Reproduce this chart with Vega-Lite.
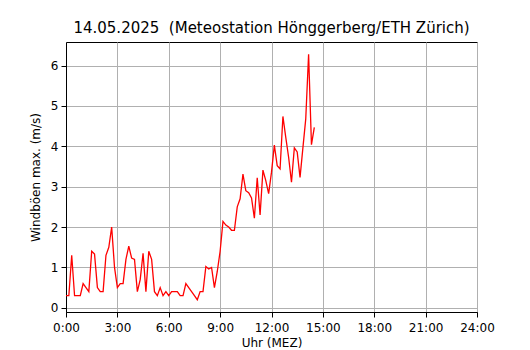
{
  "$schema": "https://vega.github.io/schema/vega-lite/v6.json",
  "autosize": "none",
  "width": 411,
  "height": 270,
  "padding": {"left": 66, "top": 42, "right": 53, "bottom": 38},
  "background": "white",
  "config": {
    "font": "DejaVu Sans",
    "view": {"stroke": "black", "strokeWidth": 1},
    "axis": {
      "gridColor": "#b0b0b0",
      "gridWidth": 1,
      "gridOpacity": 1,
      "domainColor": "black",
      "tickColor": "black",
      "tickSize": 5,
      "labelFont": "DejaVu Sans",
      "labelFontSize": 12,
      "labelColor": "black",
      "titleFont": "DejaVu Sans",
      "titleFontSize": 12,
      "titleFontWeight": "normal",
      "titleColor": "black"
    }
  },
  "title": {
    "text": "14.05.2025\u00a0 (Meteostation Hönggerberg/ETH Zürich)",
    "font": "DejaVu Sans",
    "fontSize": 15,
    "fontWeight": "normal",
    "color": "black",
    "anchor": "middle",
    "offset": 6
  },
  "data": {
    "values": [
      {"m": 0, "v": 0.3}, {"m": 10, "v": 0.3}, {"m": 20, "v": 1.3}, {"m": 30, "v": 0.3},
      {"m": 40, "v": 0.3}, {"m": 50, "v": 0.3}, {"m": 60, "v": 0.6}, {"m": 70, "v": 0.5},
      {"m": 80, "v": 0.4}, {"m": 90, "v": 1.4}, {"m": 100, "v": 1.33}, {"m": 110, "v": 0.5},
      {"m": 120, "v": 0.4}, {"m": 130, "v": 0.4}, {"m": 140, "v": 1.3}, {"m": 150, "v": 1.5},
      {"m": 160, "v": 2.0}, {"m": 170, "v": 1.0}, {"m": 180, "v": 0.5}, {"m": 190, "v": 0.6},
      {"m": 200, "v": 0.6}, {"m": 210, "v": 1.2}, {"m": 220, "v": 1.53}, {"m": 230, "v": 1.23},
      {"m": 240, "v": 1.2}, {"m": 250, "v": 0.4}, {"m": 260, "v": 0.7}, {"m": 270, "v": 1.35},
      {"m": 280, "v": 0.4}, {"m": 290, "v": 1.4}, {"m": 300, "v": 1.2}, {"m": 310, "v": 0.4},
      {"m": 320, "v": 0.3}, {"m": 330, "v": 0.5}, {"m": 340, "v": 0.3}, {"m": 350, "v": 0.4},
      {"m": 360, "v": 0.3}, {"m": 370, "v": 0.4}, {"m": 380, "v": 0.4}, {"m": 390, "v": 0.4},
      {"m": 400, "v": 0.3}, {"m": 410, "v": 0.3}, {"m": 420, "v": 0.6}, {"m": 430, "v": 0.5},
      {"m": 440, "v": 0.4}, {"m": 450, "v": 0.3}, {"m": 460, "v": 0.2}, {"m": 470, "v": 0.4},
      {"m": 480, "v": 0.4}, {"m": 490, "v": 1.02}, {"m": 500, "v": 0.96}, {"m": 510, "v": 1.0},
      {"m": 520, "v": 0.5}, {"m": 530, "v": 0.9}, {"m": 540, "v": 1.4}, {"m": 550, "v": 2.14},
      {"m": 560, "v": 2.05}, {"m": 570, "v": 2.0}, {"m": 580, "v": 1.92}, {"m": 590, "v": 1.92},
      {"m": 600, "v": 2.5}, {"m": 610, "v": 2.7}, {"m": 620, "v": 3.31}, {"m": 630, "v": 2.9},
      {"m": 640, "v": 2.85}, {"m": 650, "v": 2.72}, {"m": 660, "v": 2.22}, {"m": 670, "v": 3.22},
      {"m": 680, "v": 2.3}, {"m": 690, "v": 3.41}, {"m": 700, "v": 3.15}, {"m": 710, "v": 2.83},
      {"m": 720, "v": 3.36}, {"m": 730, "v": 4.03}, {"m": 740, "v": 3.52}, {"m": 750, "v": 3.44},
      {"m": 760, "v": 4.74}, {"m": 770, "v": 4.22}, {"m": 780, "v": 3.73}, {"m": 790, "v": 3.11},
      {"m": 800, "v": 3.96}, {"m": 810, "v": 3.86}, {"m": 820, "v": 3.23}, {"m": 830, "v": 3.96},
      {"m": 840, "v": 4.68}, {"m": 850, "v": 6.28}, {"m": 860, "v": 4.04}, {"m": 870, "v": 4.47}
    ]
  },
  "mark": {"type": "line", "color": "#ff0000", "strokeWidth": 1.3, "clip": true},
  "encoding": {
    "x": {
      "field": "m",
      "type": "quantitative",
      "scale": {"domain": [0, 1440], "nice": false, "zero": false},
      "axis": {
        "title": "Uhr (MEZ)",
        "values": [0, 180, 360, 540, 720, 900, 1080, 1260, 1440],
        "labelExpr": "floor(datum.value / 60) + ':00'",
        "labelPadding": 5,
        "titlePadding": 4,
        "labelFlush": false
      }
    },
    "y": {
      "field": "v",
      "type": "quantitative",
      "scale": {"domain": [-0.104, 6.584], "nice": false, "zero": false},
      "axis": {
        "title": "Windböen max. (m/s)",
        "values": [0, 1, 2, 3, 4, 5, 6],
        "labelPadding": 3,
        "titlePadding": 8,
        "labelFlush": false
      }
    }
  }
}
